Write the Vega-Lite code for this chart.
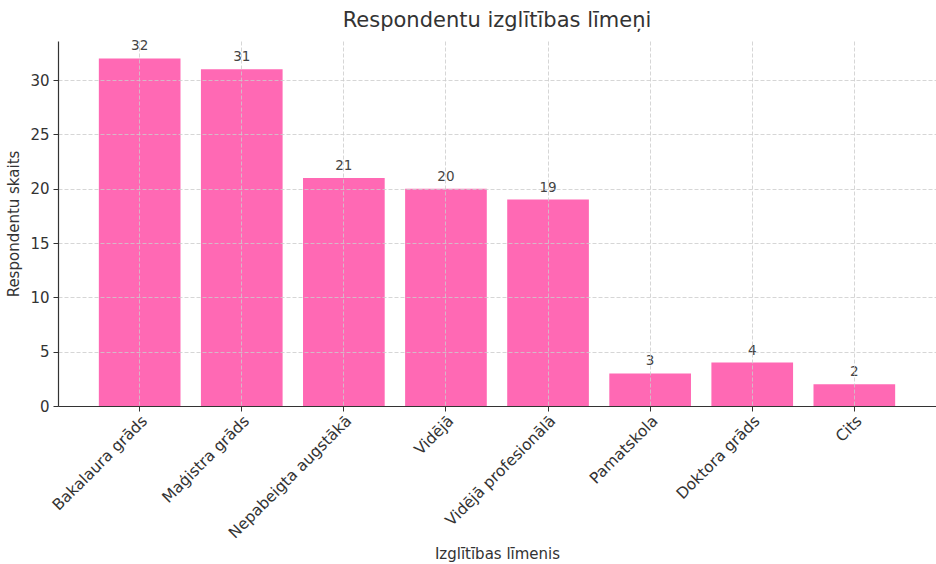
{
  "$schema": "https://vega.github.io/schema/vega-lite/v6.json",
  "width": 878,
  "height": 365,
  "autosize": {"type": "none"},
  "padding": {"left": 58, "top": 41, "right": 0, "bottom": 158},
  "background": "white",
  "title": {
    "text": "Respondentu izglītības līmeņi",
    "font": "DejaVu Sans",
    "fontSize": 21,
    "fontWeight": "normal",
    "color": "#333333",
    "anchor": "middle",
    "offset": 8
  },
  "config": {
    "view": {"stroke": null},
    "font": "DejaVu Sans"
  },
  "data": {
    "values": [
      {"level": "Bakalaura grāds", "count": 32},
      {"level": "Maģistra grāds", "count": 31},
      {"level": "Nepabeigta augstākā", "count": 21},
      {"level": "Vidējā", "count": 20},
      {"level": "Vidējā profesionālā", "count": 19},
      {"level": "Pamatskola", "count": 3},
      {"level": "Doktora grāds", "count": 4},
      {"level": "Cits", "count": 2}
    ]
  },
  "encoding": {
    "x": {
      "field": "level",
      "type": "nominal",
      "sort": null,
      "scale": {"paddingInner": 0.2, "paddingOuter": 0.4},
      "axis": {
        "title": "Izglītības līmenis",
        "titleFont": "DejaVu Sans",
        "titleFontSize": 15,
        "titleFontWeight": "normal",
        "titleColor": "#333333",
        "titlePadding": 5,
        "labelAngle": -45,
        "labelAlign": "right",
        "labelBaseline": "top",
        "labelFontSize": 15.5,
        "labelColor": "#333333",
        "labelPadding": 2,
        "domainColor": "#333333",
        "domainWidth": 1.2,
        "tickColor": "#333333",
        "tickSize": 5,
        "grid": true,
        "gridColor": "#cccccc",
        "gridDash": [4, 2],
        "gridWidth": 0.8,
        "zindex": 1
      }
    },
    "y": {
      "field": "count",
      "type": "quantitative",
      "scale": {"domain": [0, 33.6], "nice": false},
      "axis": {
        "title": "Respondentu skaits",
        "titleFont": "DejaVu Sans",
        "titleFontSize": 15,
        "titleFontWeight": "normal",
        "titleColor": "#333333",
        "titlePadding": 8,
        "values": [0, 5, 10, 15, 20, 25, 30],
        "labelFontSize": 15,
        "labelColor": "#333333",
        "labelPadding": 4,
        "domainColor": "#333333",
        "domainWidth": 1.2,
        "tickColor": "#333333",
        "tickSize": 5,
        "grid": true,
        "gridColor": "#cccccc",
        "gridDash": [4, 2],
        "gridWidth": 0.8,
        "zindex": 1
      }
    }
  },
  "layer": [
    {"mark": {"type": "bar", "color": "#ff69b4"}},
    {
      "mark": {"type": "text", "baseline": "bottom", "dy": -5, "fontSize": 13.5, "color": "#444444"},
      "encoding": {"text": {"field": "count", "type": "quantitative"}}
    }
  ]
}
